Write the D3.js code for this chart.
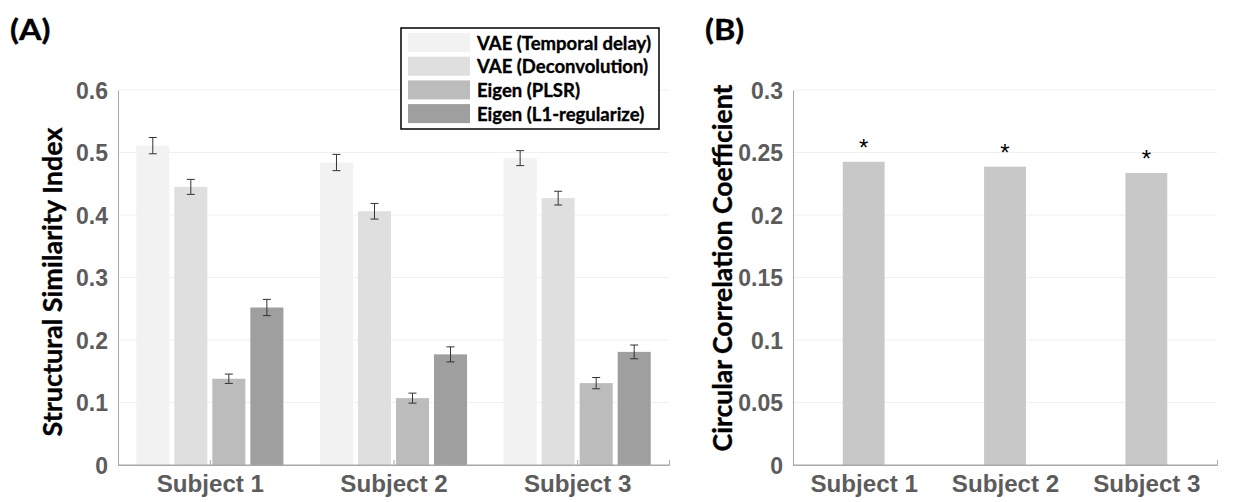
<!DOCTYPE html>
<html>
<head>
<meta charset="utf-8">
<script src="https://cdn.jsdelivr.net/npm/d3@7"></script>
<style>
  body { margin: 0; background: #fff; }
  .tick-label { font-family: "Liberation Sans", Arial, sans-serif; font-weight: bold; fill: #5c5c5c; }
  .title { font-family: Lato, "Open Sans", sans-serif; font-weight: bold; fill: #000; stroke: #000; stroke-width: 0.35px; }
</style>
</head>
<body>
<svg id="chart" width="1256" height="502"></svg>
<script>
// data
const subjects = ["Subject 1", "Subject 2", "Subject 3"]
const methods = ["VAE (Temporal delay)", "VAE (Deconvolution)", "Eigen (PLSR)", "Eigen (L1-regularize)"]
const ssimMean = [
    [0.511, 0.445, 0.138, 0.252],
    [0.484, 0.406, 0.107, 0.177],
    [0.491, 0.427, 0.131, 0.181]
]
const ssimErr = [
    [0.013, 0.012, 0.0075, 0.013],
    [0.013, 0.0125, 0.008, 0.012],
    [0.012, 0.011, 0.009, 0.011]
]
const circCorr = [0.2426, 0.2387, 0.2336]
const sigMarks = ["*", "*", "*"]
const yTicksA = [0, 0.1, 0.2, 0.3, 0.4, 0.5, 0.6]
const yTicksB = [0, 0.05, 0.1, 0.15, 0.2, 0.25, 0.3]

const methodColors = ["#f2f2f2", "#dfdfdf", "#bcbcbc", "#9f9f9f"]
const svg = d3.select("#chart")

// rotated axis title, font size fitted to the wanted length
function fitTitle(g, text, x, y, len)
{
    let t = g.append("text")
        .attr("class", "title")
        .attr("transform", `translate(${x},${y}) rotate(270)`)
        .attr("text-anchor", "middle")
        .style("font-size", "24px")
        .text(text)
    let w = t.node().getComputedTextLength()
    t.style("font-size", (24 * len / w) + "px")
}

function panel(left, right, yMax, yTicks)
{
    let xScale = d3.scaleLinear().domain([0.5, 3.5]).range([left, right])
    let yScale = d3.scaleLinear().domain([0, yMax]).range([465, 90])
    let g = svg.append("g")
    // grid
    g.selectAll(".grid").data(yTicks.slice(1)).enter()
        .append("line")
        .attr("x1", left).attr("x2", right)
        .attr("y1", d => yScale(d)).attr("y2", d => yScale(d))
        .attr("stroke", "#f0f0f0").attr("stroke-width", 1)
    // y axis
    let yAxis = d3.axisLeft(yScale).tickValues(yTicks).tickSize(0).tickPadding(10)
        .tickFormat(d => d3.format("")(+d.toFixed(2)))
    let ya = g.append("g").attr("transform", `translate(${left},0)`).call(yAxis)
    ya.select(".domain").attr("stroke", "#a8a8a8")
    ya.selectAll("text").attr("class", "tick-label").style("font-size", "23px").attr("dy", "0.36em")
    // x axis
    let xAxis = d3.axisBottom(xScale).tickValues([1, 2, 3]).tickSize(-5).tickPadding(11)
        .tickFormat((d, i) => subjects[i])
    let xa = g.append("g").attr("transform", `translate(0,465)`).call(xAxis)
    xa.select(".domain").attr("stroke", "#a8a8a8")
    xa.selectAll(".tick line").attr("stroke", "#a8a8a8")
    xa.selectAll("text").attr("class", "tick-label").style("font-size", "23px")
        .attr("transform", "scale(1.05,1)")
    return {g, xScale, yScale}
}

// Panel A
let A = panel(118, 669, 0.6, yTicksA)
fitTitle(A.g, "Structural Similarity Index", 62, 282, 309)
let barW = 0.18, step = 0.207
let flat = []
ssimMean.forEach((row, s) => row.forEach((v, m) => flat.push({s, m, v, e: ssimErr[s][m]})))
A.g.selectAll(".barA").data(flat).enter()
    .append("rect")
    .attr("x", d => A.xScale(d.s + 1 + (d.m - 1.5) * step - barW / 2))
    .attr("width", d => A.xScale(barW) - A.xScale(0))
    .attr("y", d => A.yScale(d.v))
    .attr("height", d => A.yScale(0) - A.yScale(d.v))
    .attr("fill", d => methodColors[d.m])
// x axis line over bars
A.g.append("line").attr("x1", 118).attr("x2", 669).attr("y1", 465).attr("y2", 465).attr("stroke", "#a8a8a8")
let eb = A.g.selectAll(".err").data(flat).enter().append("g")
    .attr("transform", d => `translate(${A.xScale(d.s + 1 + (d.m - 1.5) * step)},0)`)
    .attr("stroke", "#333").attr("stroke-width", 1)
eb.append("line").attr("y1", d => A.yScale(d.v - d.e)).attr("y2", d => A.yScale(d.v + d.e))
eb.append("line").attr("x1", -4).attr("x2", 4).attr("y1", d => A.yScale(d.v - d.e)).attr("y2", d => A.yScale(d.v - d.e))
eb.append("line").attr("x1", -4).attr("x2", 4).attr("y1", d => A.yScale(d.v + d.e)).attr("y2", d => A.yScale(d.v + d.e))

// Legend
let lg = svg.append("g").attr("transform", "translate(401,28)")
lg.append("rect").attr("width", 258).attr("height", 101).attr("fill", "#fff")
    .attr("stroke", "#000").attr("stroke-width", 1.5)
let li = lg.selectAll(".li").data(methods).enter().append("g")
    .attr("transform", (d, i) => `translate(7,${5 + i * 23.7})`)
li.append("rect").attr("width", 62).attr("height", 19).attr("fill", (d, i) => methodColors[i])
li.append("text").attr("class", "title").attr("x", 69).attr("y", 10).attr("dy", "0.36em")
    .style("font-size", "18.5px").text(d => d)

// Panel B
let B = panel(793, 1217, 0.3, yTicksB)
fitTitle(B.g, "Circular Correlation Coefficient", 732, 268, 367)
let barWB = 0.296
B.g.selectAll(".barB").data(circCorr).enter()
    .append("rect")
    .attr("x", (d, i) => B.xScale(i + 1 - barWB / 2))
    .attr("width", B.xScale(barWB) - B.xScale(0))
    .attr("y", d => B.yScale(d))
    .attr("height", d => B.yScale(0) - B.yScale(d))
    .attr("fill", "#c8c8c8")
B.g.append("line").attr("x1", 793).attr("x2", 1217).attr("y1", 465).attr("y2", 465).attr("stroke", "#a8a8a8")
B.g.selectAll(".sig").data(circCorr).enter()
    .append("text")
    .attr("x", (d, i) => B.xScale(i + 1))
    .attr("y", d => B.yScale(d) - 6)
    .attr("text-anchor", "middle")
    .style("font-family", "Liberation Sans, Arial, sans-serif")
    .style("font-size", "24px").attr("fill", "#000")
    .text((d, i) => sigMarks[i])

// Panel tags
svg.append("text").attr("class", "title").attr("transform", "translate(10,40) scale(1.12,1)")
    .style("font-size", "29px").text("(A)")
svg.append("text").attr("class", "title").attr("transform", "translate(705,40) scale(1.12,1)")
    .style("font-size", "29px").text("(B)")
</script>
</body>
</html>
